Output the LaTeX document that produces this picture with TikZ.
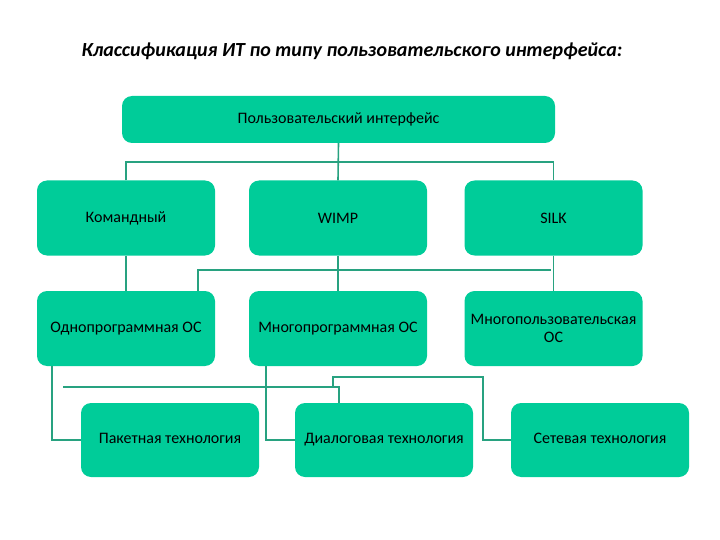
\documentclass[tikz,border=0pt]{standalone}
\usepackage{fontspec}
\setmainfont{Carlito}
\definecolor{boxgreen}{RGB}{0,204,153}
\definecolor{linkteal}{RGB}{40,162,128}
\begin{document}
\begin{tikzpicture}[x=1pt, y=-1pt,
  fam/.style={fill=boxgreen, rounded corners=10pt, align=center, inner sep=0pt, minimum width=178pt, minimum height=75pt, font=\fontsize{16}{18}\selectfont},
  tech/.style={fam, minimum height=74pt, text height=11pt, text depth=4pt},
  link/.style={draw=linkteal, line width=1.6pt}
]
\useasboundingbox (0,0) rectangle (720,540);
\node[font=\fontsize{20}{24}\selectfont\bfseries\itshape] (title) at (352,51) {Классификация ИТ по типу пользовательского интерфейса:};

\node[fam, minimum width=433pt, minimum height=47pt] (ui) at (338.5,119.5) {Пользовательский интерфейс};

\node[fam] (cmd) at (126,218) {Командный};
\node[fam] (wimp) at (338,218) {WIMP};
\node[fam] (silk) at (553.5,218) {SILK};

\node[fam] (single) at (126,328.5) {Однопрограммная ОС};
\node[fam] (multi) at (338,328.5) {Многопрограммная ОС};
\node[fam] (multiuser) at (553.5,328.5) {Многопользовательская\\ОС};

\node[tech] (batch) at (170,440) {Пакетная технология};
\node[tech] (dialog) at (384,440) {Диалоговая технология};
\node[tech] (net) at (600,440) {Сетевая технология};

% bus lines
\coordinate (bus1) at (0,162);
\coordinate (bus2) at (198,270);
\coordinate (bus2end) at (551,270);
\coordinate (leftrun) at (52,0);
\coordinate (midrun) at (266,0);
\coordinate (rightrun) at (483,377);
\coordinate (jog) at (333,387);
\coordinate (busstart) at (63,387);
\coordinate (drop) at (339,0);

\draw[link] (ui.south) -- (wimp.north);
\draw[link] (cmd.north) -- (cmd.north |- bus1) -| (silk.north);

\draw[link] (cmd) -- (single);
\draw[link] (wimp) -- (multi);
\draw[link] (silk) -- (multiuser);
\draw[link] (bus2 |- single.north) -- (bus2) -- (bus2end);

\draw[link] (leftrun |- single.south) |- (batch.west);
\draw[link] (midrun |- multi.south) |- (dialog.west);
\draw[link] (net.west) -| (rightrun) -| (jog);
\draw[link] (busstart) -| (drop |- dialog.north);
\end{tikzpicture}
\end{document}
